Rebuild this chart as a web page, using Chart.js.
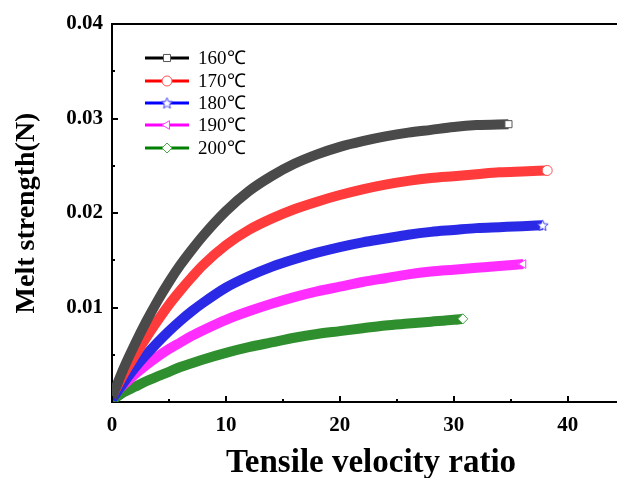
<!DOCTYPE html>
<html>
<head>
<meta charset="utf-8">
<script src="https://cdn.jsdelivr.net/npm/chart.js@4/dist/chart.umd.min.js"></script>
<style>
  html, body { margin: 0; padding: 0; background: #fff; }
  #chart { display: block; }
</style>
</head>
<body>
<canvas id="chart" width="617" height="478"></canvas>
<script>
/* ------------ DATA ------------ */
const seriesNames = ['160℃', '170℃', '180℃', '190℃', '200℃'];

const x160 = [0, 1, 2, 3, 4, 5, 6, 7, 8, 10, 12, 14, 16, 18, 20, 22, 24, 26, 28, 30, 32, 34.8];
const y160 = [0.0005, 0.0035, 0.0061, 0.0085, 0.0107, 0.0127, 0.0145, 0.0161, 0.0176, 0.0202, 0.0223, 0.0239, 0.0252, 0.0262, 0.0270, 0.0276, 0.0281, 0.0285, 0.0288, 0.0291, 0.0293, 0.0294];

const x170 = [0, 1, 2, 3, 4, 5, 6, 7, 8, 10, 12, 14, 16, 18, 20, 22, 24, 26, 28, 30, 32, 34, 36, 38.2];
const y170 = [0.0006, 0.0029, 0.0049, 0.0068, 0.0086, 0.0103, 0.0118, 0.0132, 0.0145, 0.0166, 0.0182, 0.0194, 0.0204, 0.0212, 0.0219, 0.0225, 0.0230, 0.0234, 0.0237, 0.0239, 0.0241, 0.0243, 0.0244, 0.0245];

const x180 = [0, 1, 2, 3, 4, 5, 6, 7, 8, 10, 12, 14, 16, 18, 20, 22, 24, 26, 28, 30, 32, 34, 36, 37.8];
const y180 = [0.0003, 0.0020, 0.0036, 0.0050, 0.0063, 0.0075, 0.0086, 0.0096, 0.0105, 0.0121, 0.0133, 0.0143, 0.0151, 0.0158, 0.0164, 0.0169, 0.0173, 0.0177, 0.0180, 0.0182, 0.0184, 0.0185, 0.0186, 0.0187];

const x190 = [0, 1, 2, 3, 4, 5, 6, 7, 8, 10, 12, 14, 16, 18, 20, 22, 24, 26, 28, 30, 32, 34, 36.1];
const y190 = [0.0006, 0.0018, 0.0029, 0.0039, 0.0048, 0.0056, 0.0063, 0.0070, 0.0076, 0.0087, 0.0096, 0.0104, 0.0111, 0.0117, 0.0122, 0.0127, 0.0131, 0.0135, 0.0138, 0.0140, 0.0142, 0.0144, 0.0146];

const x200 = [0, 1, 2, 3, 4, 5, 6, 7, 8, 10, 12, 14, 16, 18, 20, 22, 24, 26, 28, 30, 30.8];
const y200 = [0.0002, 0.0010, 0.0016, 0.0022, 0.0027, 0.0032, 0.0037, 0.0041, 0.0045, 0.0052, 0.0058, 0.0063, 0.0068, 0.0072, 0.0075, 0.0078, 0.0081, 0.0083, 0.0085, 0.0087, 0.0088];

const xTicks = [0, 10, 20, 30, 40];
const yTicks = [0, 0.01, 0.02, 0.03, 0.04];
const xTitle = 'Tensile velocity ratio';
const yTitle = 'Melt strength(N)';

/* ------------ STYLE ------------ */
const serif = '"Liberation Serif", "Times New Roman", serif';

// open five-point star, Chart.js only has a line star
function starMark(color) {
  const c = document.createElement('canvas');
  c.width = 13; c.height = 13;
  const g = c.getContext('2d');
  g.beginPath();
  for (let k = 0; k < 10; k++) {
    const r = k % 2 ? 2.6 : 5.8;
    const ang = -Math.PI / 2 + k * Math.PI / 5;
    g.lineTo(6.5 + r * Math.cos(ang), 7 + r * Math.sin(ang));
  }
  g.closePath();
  g.fillStyle = '#fff';
  g.fill();
  g.strokeStyle = color;
  g.lineWidth = 1;
  g.stroke();
  return c;
}

const looks = [
  { band: '#4a4a4a', line: '#000000', mark: '#555555', style: 'rect',     rot: 0 },
  { band: '#ff3b3b', line: '#ff0000', mark: '#ff5050', style: 'circle',   rot: 0 },
  { band: '#2a2ae6', line: '#0000ff', mark: '#4040ff', style: starMark('#4040ff'), rot: 0 },
  { band: '#ff2eff', line: '#ff00ff', mark: '#ff40ff', style: 'triangle', rot: -90 },
  { band: '#2f8f2f', line: '#008000', mark: '#44aa44', style: 'rectRot',  rot: 0 }
];

const xs = [x160, x170, x180, x190, x200];
const ys = [y160, y170, y180, y190, y200];

const datasets = seriesNames.map((name, i) => {
  const pts = xs[i].map((x, k) => ({ x, y: ys[i][k] }));
  const last = pts.length - 1;
  return {
    label: name,
    data: pts,
    borderColor: looks[i].band,
    borderWidth: 10,
    borderCapStyle: 'butt',
    cubicInterpolationMode: 'monotone',
    pointStyle: looks[i].style,
    rotation: looks[i].rot,
    pointRadius: pts.map((_, k) => (k === last ? 5 : 0)),
    pointBackgroundColor: '#ffffff',
    pointBorderColor: looks[i].mark,
    pointBorderWidth: 1
  };
});

/* ------------ PLUGINS: inward ticks, frame, x title, inset legend ------------ */
const frameAndTicks = {
  id: 'frameAndTicks',
  afterDraw(chart) {
    const { ctx, chartArea: a, scales: { x, y } } = chart;
    ctx.save();
    ctx.strokeStyle = '#000';
    ctx.lineWidth = 2;
    // top frame and the bottom axis run on to the right edge of the picture
    ctx.beginPath();
    ctx.moveTo(a.left - 1, a.top);
    ctx.lineTo(chart.width, a.top);
    ctx.moveTo(a.right - 1, a.bottom);
    ctx.lineTo(chart.width, a.bottom);
    ctx.stroke();

    ctx.beginPath();
    xTicks.forEach((v, k) => {
      const px = Math.round(x.getPixelForValue(v));
      ctx.moveTo(px, a.bottom); ctx.lineTo(px, a.bottom - 6);
      if (k < xTicks.length - 1) {
        const mx = Math.round(x.getPixelForValue((v + xTicks[k + 1]) / 2));
        ctx.moveTo(mx, a.bottom); ctx.lineTo(mx, a.bottom - 3);
      }
    });
    yTicks.forEach((v, k) => {
      const py = Math.round(y.getPixelForValue(v));
      if (v !== 0) { ctx.moveTo(a.left, py); ctx.lineTo(a.left + 6, py); }
      if (k < yTicks.length - 1) {
        const my = Math.round(y.getPixelForValue((v + yTicks[k + 1]) / 2));
        ctx.moveTo(a.left, my); ctx.lineTo(a.left + 3, my);
      }
    });
    ctx.stroke();

    // x title, a little right of the plot centre as in the original
    ctx.fillStyle = '#000';
    ctx.font = 'bold 33px ' + serif;
    ctx.textAlign = 'center';
    ctx.textBaseline = 'alphabetic';
    ctx.fillText(xTitle, 371, 472);

    // legend
    const lx0 = 145, lx1 = 189, rowY = [58, 81, 103, 125, 148];
    ctx.font = '19px ' + serif;
    ctx.textBaseline = 'middle';
    ctx.textAlign = 'left';
    seriesNames.forEach((name, i) => {
      const yy = rowY[i];
      ctx.strokeStyle = looks[i].line;
      ctx.lineWidth = 3;
      ctx.beginPath();
      ctx.moveTo(lx0, yy); ctx.lineTo(lx1, yy);
      ctx.stroke();
      ctx.fillStyle = '#fff';
      ctx.strokeStyle = looks[i].mark;
      ctx.lineWidth = 1;
      Chart.helpers.drawPoint(ctx, { pointStyle: looks[i].style, radius: 5, rotation: looks[i].rot, borderWidth: 1 }, (lx0 + lx1) / 2, yy);
      ctx.fillStyle = '#000';
      ctx.fillText(name, 198, yy + 1);
    });
    ctx.restore();
  }
};

/* ------------ CHART ------------ */
new Chart(document.getElementById('chart'), {
  type: 'line',
  data: { datasets },
  plugins: [frameAndTicks],
  options: {
    responsive: false,
    devicePixelRatio: 1,
    animation: false,
    layout: { padding: { top: 24, right: 0, left: 0, bottom: 0 } },
    plugins: { legend: { display: false }, tooltip: { enabled: false } },
    scales: {
      x: {
        type: 'linear',
        min: 0,
        max: 43.8,
        afterBuildTicks: s => { s.ticks = xTicks.map(v => ({ value: v })); },
        afterFit: s => { s.height = 76; },
        grid: { display: false, drawTicks: false },
        border: { display: true, color: '#000', width: 2 },
        ticks: { padding: 11, color: '#000', font: { family: serif, size: 21, weight: 'bold' }, maxRotation: 0 }
      },
      y: {
        type: 'linear',
        min: 0,
        max: 0.04,
        afterBuildTicks: s => { s.ticks = yTicks.map(v => ({ value: v })); },
        afterFit: s => { s.width = 112; },
        grid: { display: false, drawTicks: false },
        border: { display: true, color: '#000', width: 2 },
        ticks: { padding: 9, color: '#000', font: { family: serif, size: 21, weight: 'bold' },
                 callback: v => (v === 0 ? '' : v.toFixed(2)) },
        title: { display: true, text: yTitle, color: '#000',
                 font: { family: serif, size: 28, weight: 'bold' }, padding: { top: 10, bottom: 0 } }
      }
    }
  }
});
</script>
</body>
</html>
